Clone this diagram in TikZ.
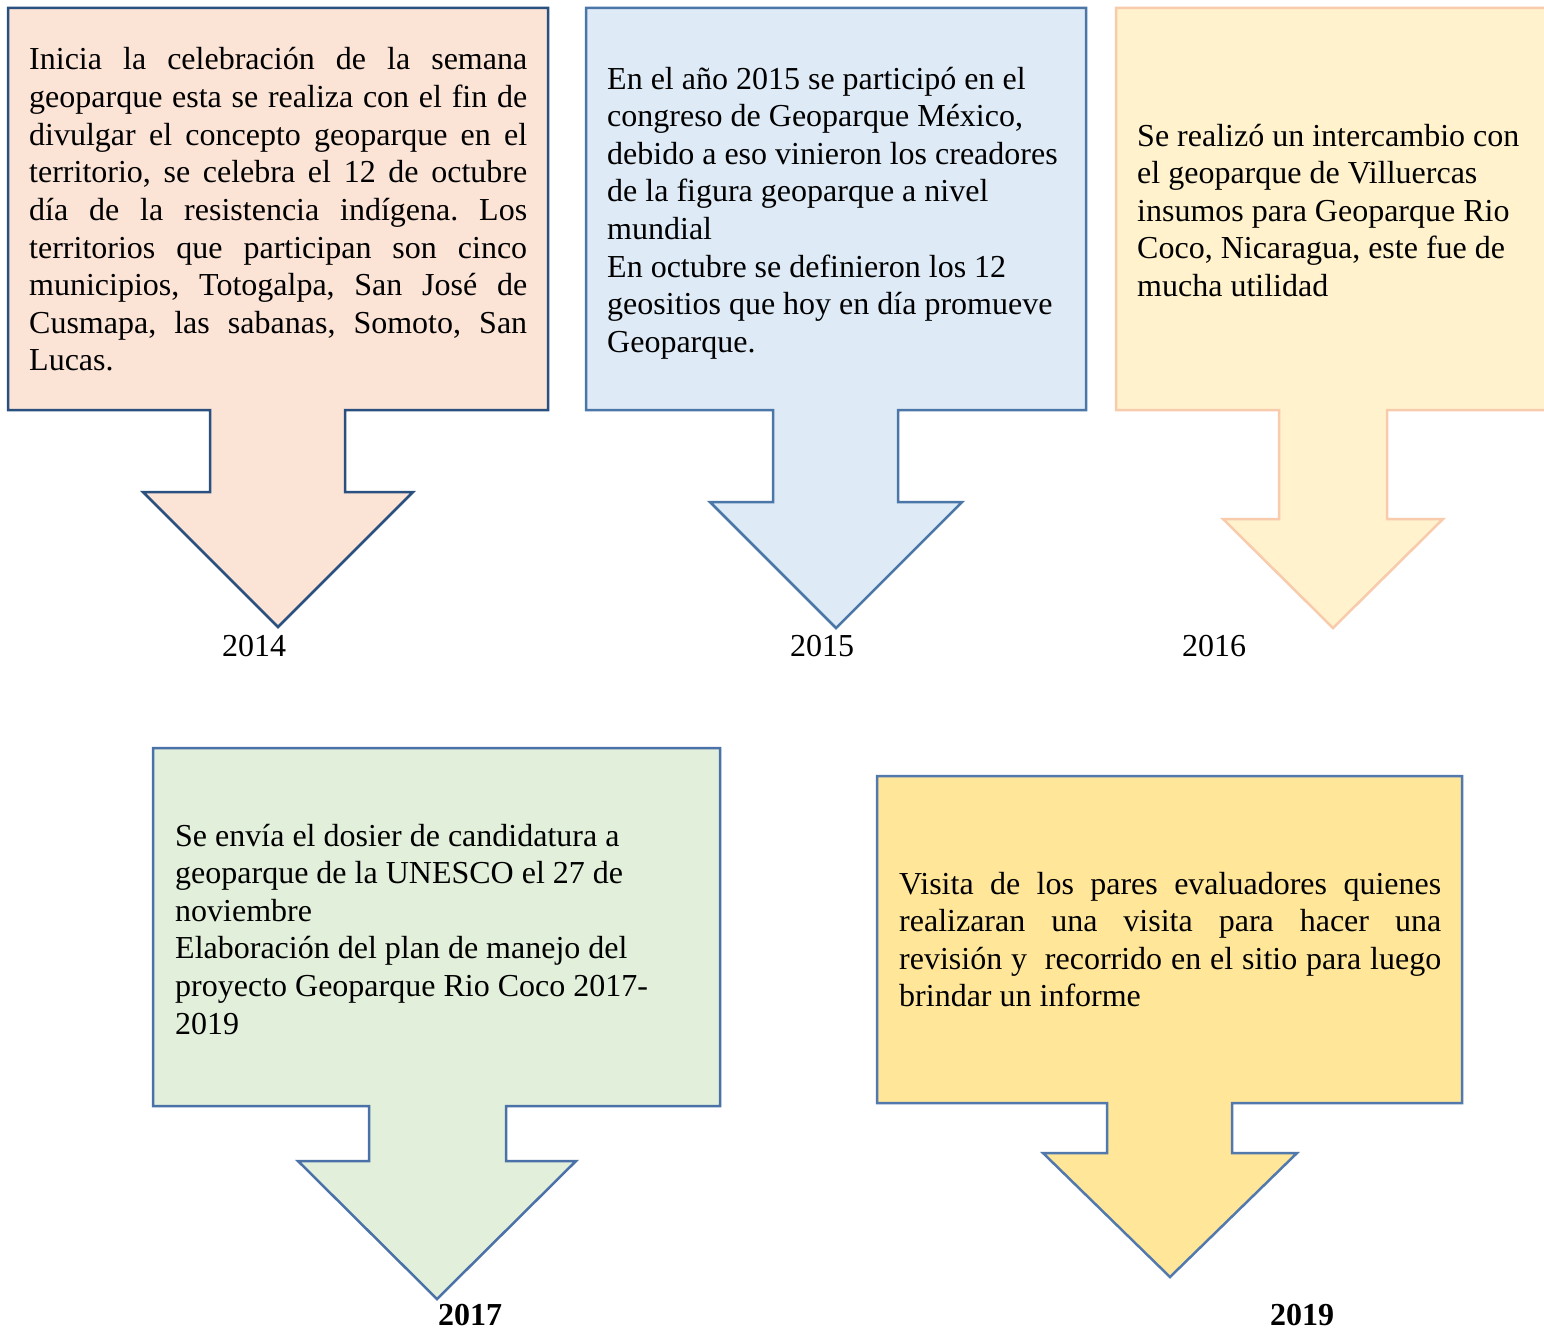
\documentclass[tikz,border=0pt]{standalone}
\usepackage{fontspec}
\setmainfont{Liberation Serif}
\frenchspacing
\definecolor{fillA}{HTML}{FBE3D6}
\definecolor{lineA}{HTML}{2A5080}
\definecolor{fillB}{HTML}{DEEAF6}
\definecolor{lineB}{HTML}{4A76A8}
\definecolor{fillC}{HTML}{FFF2CC}
\definecolor{lineC}{HTML}{F8CBAD}
\definecolor{fillD}{HTML}{E2EFDA}
\definecolor{lineD}{HTML}{4A72A8}
\definecolor{fillE}{HTML}{FFE699}
\definecolor{lineE}{HTML}{5179AE}
\newcommand\jl[1]{\makebox[\linewidth][s]{#1}}
\newcommand\bodyfont{\fontsize{32}{37.6}\selectfont\frenchspacing}
\tikzset{
  callshape/.style={line width=2.5pt, line join=miter},
  bodytext/.style={anchor=base west, inner sep=0pt, font=\bodyfont},
  yearlabel/.style={anchor=base, inner sep=0pt, font=\bodyfont},
}
\begin{document}
\begin{tikzpicture}[x=1pt,y=-1pt]
\useasboundingbox (0,0) rectangle (1544,1330);
\fill[white] (0,0) rectangle (1544,1330);
% 2014
\draw[callshape, draw=lineA, fill=fillA] (8,8) -- (548,8) -- (548,410) -- (345,410) -- (345,492) -- (413,492) -- (278,627) -- (143,492) -- (210,492) -- (210,410) -- (8,410) -- cycle;
% 2015
\draw[callshape, draw=lineB, fill=fillB] (586,8) -- (1086,8) -- (1086,410) -- (898,410) -- (898,502) -- (962,502) -- (836,628) -- (710,502) -- (773,502) -- (773,410) -- (586,410) -- cycle;
% 2016
\draw[callshape, draw=lineC, fill=fillC] (1116,8) -- (1550,8) -- (1550,410) -- (1387,410) -- (1387,519) -- (1443,519) -- (1333,628) -- (1223,519) -- (1279,519) -- (1279,410) -- (1116,410) -- cycle;
% 2017
\draw[callshape, draw=lineD, fill=fillD] (153,748) -- (720,748) -- (720,1106) -- (506,1106) -- (506,1161) -- (576,1161) -- (437,1299) -- (298,1161) -- (369,1161) -- (369,1106) -- (153,1106) -- cycle;
% 2019
\draw[callshape, draw=lineE, fill=fillE] (877,776) -- (1462,776) -- (1462,1103) -- (1232,1103) -- (1232,1153) -- (1297,1153) -- (1170,1277) -- (1043,1153) -- (1107,1153) -- (1107,1103) -- (877,1103) -- cycle;

\node[bodytext] (t1) at (29,70) {\parbox[t]{498pt}{\bodyfont
\jl{Inicia la celebración de la semana}\\
\jl{geoparque esta se realiza con el fin de}\\
\jl{divulgar el concepto geoparque en el}\\
\jl{territorio, se celebra el 12 de octubre}\\
\jl{día de la resistencia indígena. Los}\\
\jl{territorios que participan son cinco}\\
\jl{municipios, Totogalpa, San José de}\\
\jl{Cusmapa, las sabanas, Somoto, San}\\
Lucas.}};

\node[bodytext] (t2) at (607,89) {\parbox[t]{470pt}{\bodyfont
En el año 2015 se participó en el\\
congreso de Geoparque México,\\
debido a eso vinieron los creadores\\
de la figura geoparque a nivel\\
mundial\\
En octubre se definieron los 12\\
geositios que hoy en día promueve\\
Geoparque.}};

\node[bodytext] (t3) at (1137,146) {\parbox[t]{400pt}{\bodyfont
Se realizó un intercambio con\\
el geoparque de Villuercas\\
insumos para Geoparque Rio\\
Coco, Nicaragua, este fue de\\
mucha utilidad}};

\node[bodytext] (t4) at (175,846) {\parbox[t]{530pt}{\bodyfont
Se envía el dosier de candidatura a\\
geoparque de la UNESCO el 27 de\\
noviembre\\
Elaboración del plan de manejo del\\
proyecto Geoparque Rio Coco 2017-\\
2019}};

\node[bodytext] (t5) at (899,894) {\parbox[t]{542pt}{\bodyfont
\jl{Visita de los pares evaluadores quienes}\\
\jl{realizaran una visita para hacer una}\\
\jl{revisión y \ recorrido en el sitio para luego}\\
brindar un informe}};

\node[yearlabel] (y1) at (254,656) {2014};
\node[yearlabel] (y2) at (822,656) {2015};
\node[yearlabel] (y3) at (1214,656) {2016};
\node[yearlabel, font=\bodyfont\bfseries] (y4) at (470,1325) {2017};
\node[yearlabel, font=\bodyfont\bfseries] (y5) at (1302,1325) {2019};
\end{tikzpicture}
\end{document}
